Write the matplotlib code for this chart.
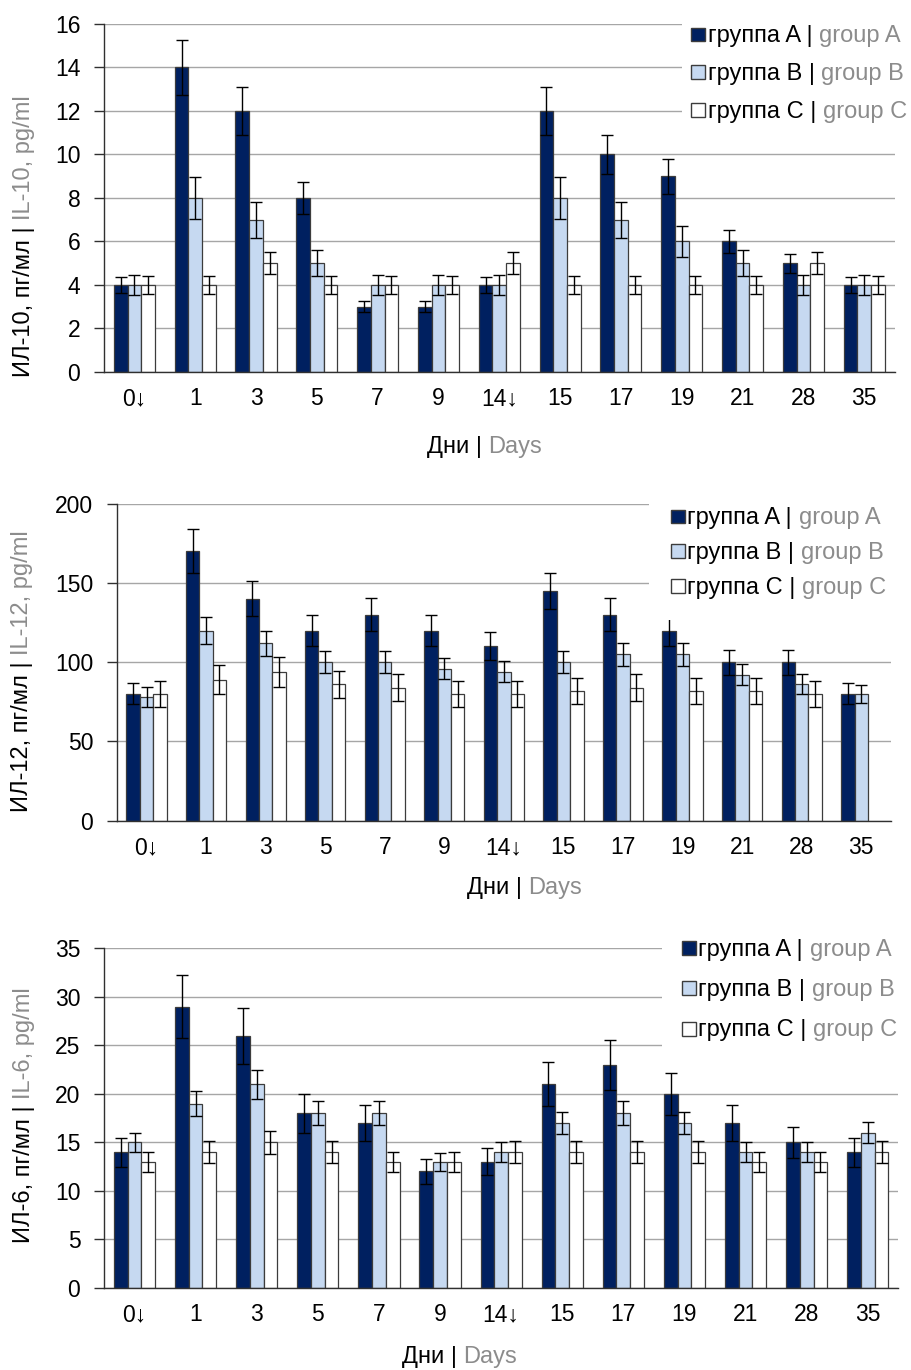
import matplotlib.pyplot as plt
import numpy as np
from matplotlib.patches import Rectangle
from matplotlib.offsetbox import AnchoredOffsetbox, HPacker, VPacker, TextArea, DrawingArea

plt.rcParams['font.family'] = ['Liberation Sans', 'DejaVu Sans']

days = ["0↓", "1", "3", "5", "7", "9", "14↓", "15", "17", "19", "21", "28", "35"]
groups_ru = ["группа A |", "группа B |", "группа C |"]
groups_en = ["group A", "group B", "group C"]

# IL-10
il10_a = [4, 14, 12, 8, 3, 3, 4, 12, 10, 9, 6, 5, 4]
il10_b = [4, 8, 7, 5, 4, 4, 4, 8, 7, 6, 5, 4, 4]
il10_c = [4, 4, 5, 4, 4, 4, 5, 4, 4, 4, 4, 5, 4]
il10_a_err = [0.35, 1.25, 1.1, 0.72, 0.25, 0.25, 0.35, 1.1, 0.9, 0.8, 0.53, 0.43, 0.35]
il10_b_err = [0.47, 0.95, 0.83, 0.6, 0.47, 0.47, 0.47, 0.95, 0.83, 0.71, 0.6, 0.47, 0.47]
il10_c_err = [0.4, 0.4, 0.5, 0.4, 0.4, 0.4, 0.5, 0.4, 0.4, 0.4, 0.4, 0.5, 0.4]

# IL-12
il12_a = [80, 170, 140, 120, 130, 120, 110, 145, 130, 120, 100, 100, 80]
il12_b = [78, 120, 112, 100, 100, 96, 94, 100, 105, 105, 92, 86, 80]
il12_c = [80, 89, 94, 86, 84, 80, 80, 82, 84, 82, 82, 80, np.nan]
il12_a_err = [6.6, 14, 11, 9.5, 10.5, 9.5, 8.8, 11.6, 10.5, 9.5, 8, 8, 6.6]
il12_b_err = [6.3, 8.5, 7.9, 7, 7, 6.8, 6.5, 7, 7.2, 7.2, 6.6, 6.3, 5.8]
il12_c_err = [8, 9, 9.5, 8.6, 8.4, 8, 8, 8.2, 8.4, 8.2, 8.2, 8, np.nan]

# IL-6
il6_a = [14, 29, 26, 18, 17, 12, 13, 21, 23, 20, 17, 15, 14]
il6_b = [15, 19, 21, 18, 18, 13, 14, 17, 18, 17, 14, 14, 16]
il6_c = [13, 14, 15, 14, 13, 13, 14, 14, 14, 14, 13, 13, 14]
il6_a_err = [1.5, 3.2, 2.9, 2.0, 1.9, 1.3, 1.4, 2.3, 2.6, 2.2, 1.9, 1.6, 1.5]
il6_b_err = [1.0, 1.3, 1.5, 1.25, 1.25, 0.9, 1.0, 1.1, 1.25, 1.1, 1.0, 1.0, 1.1]
il6_c_err = [1.05, 1.1, 1.2, 1.1, 1.05, 1.05, 1.1, 1.1, 1.1, 1.1, 1.05, 1.05, 1.1]

colors = ['#002060', '#c6d9f1', '#ffffff']
EDGE = '#3c3c3c'
GRAY = '#8c8c8c'
GRID = '#a6a6a6'
FS = 17
TFS = 16.5
SPACE = 0.278 * FS  # width of a space, points
HS = 11  # legend square, points

fig = plt.figure(figsize=(9.12, 13.7), dpi=100)


def legend_box(ax, anchor, row_sep, pad):
    rows = []
    for c, r, e in zip(colors, groups_ru, groups_en):
        da = DrawingArea(HS, HS, 0, 0)
        da.add_artist(Rectangle((0.5, 0.5), HS - 1, HS - 1, fc=c, ec=EDGE, lw=1.0))
        txt = HPacker(children=[TextArea(r, textprops=dict(color='black', fontsize=FS)),
                                TextArea(e, textprops=dict(color=GRAY, fontsize=FS))],
                      align='baseline', pad=0, sep=SPACE)
        rows.append(HPacker(children=[da, txt], align='baseline', pad=0, sep=1.5))
    box = AnchoredOffsetbox(loc='center left', child=VPacker(children=rows, align='left', pad=0, sep=row_sep),
                            pad=pad, borderpad=0, frameon=True, prop=dict(size=FS),
                            bbox_to_anchor=anchor, bbox_transform=fig.transFigure)
    box.patch.set_facecolor('white')
    box.patch.set_edgecolor('none')
    box.set_zorder(5)
    ax.add_artist(box)


def panel(rect, series, errs, yticks, yl_ru, yl_en, yl_pos, xl_pos, leg_pos, row_sep, leg_pad):
    ax = fig.add_axes(rect)
    x = np.arange(len(days))
    w = 0.225
    for i in range(3):
        ax.bar(x + (i - 1) * w, series[i], w, color=colors[i], edgecolor=EDGE,
               linewidth=0.9, zorder=2)
        ax.errorbar(x + (i - 1) * w, series[i], yerr=errs[i], fmt='none',
                    ecolor='black', elinewidth=1.0, capsize=4.3, capthick=1.0, zorder=3)
    ax.set_xlim(-0.5, len(days) - 0.5)
    ax.set_ylim(yticks[0], yticks[-1])
    ax.set_yticks(yticks)
    ax.set_xticks(x)
    ax.set_xticklabels(days)
    ax.tick_params(axis='x', length=0, pad=11, labelsize=TFS)
    ax.tick_params(axis='y', length=7, width=1, pad=10, labelsize=TFS, color='#303030')
    ax.grid(axis='y', color=GRID, linewidth=1.0, zorder=0)
    ax.set_axisbelow(True)
    for s in ['top', 'right']:
        ax.spines[s].set_visible(False)
    for s in ['left', 'bottom']:
        ax.spines[s].set_color('#303030')
        ax.spines[s].set_linewidth(1.0)

    # y label: black Russian part, gray English part after it
    t = fig.text(yl_pos[0], yl_pos[1], yl_ru, rotation=90, ha='center', va='bottom',
                 color='black', fontsize=FS)
    ax.annotate(yl_en, xy=(0.5, 1), xycoords=t, xytext=(0, SPACE), textcoords='offset points',
                rotation=90, ha='center', va='bottom', color=GRAY, fontsize=FS)
    # x label
    t = fig.text(xl_pos[0], xl_pos[1], "Дни |", ha='left', va='center', color='black', fontsize=FS)
    ax.annotate("Days", xy=(1, 0.5), xycoords=t, xytext=(SPACE, 0), textcoords='offset points',
                ha='left', va='center', color=GRAY, fontsize=FS)

    legend_box(ax, leg_pos, row_sep, leg_pad)
    return ax


panel([0.114, 0.7285, 0.867, 0.254],
      [il10_a, il10_b, il10_c], [il10_a_err, il10_b_err, il10_c_err],
      np.arange(0, 17, 2), "ИЛ-10, пг/мл |", "IL-10, pg/ml",
      (0.026, 0.7248), (0.468, 0.6737), (0.748, 0.946), 11.4, 0.34)

panel([0.128, 0.401, 0.849, 0.2313],
      [il12_a, il12_b, il12_c], [il12_a_err, il12_b_err, il12_c_err],
      np.arange(0, 201, 50), "ИЛ-12, пг/мл |", "IL-12, pg/ml",
      (0.024, 0.4073), (0.512, 0.3518), (0.7116, 0.5964), 9.2, 0.89)

panel([0.114, 0.0599, 0.871, 0.2479],
      [il6_a, il6_b, il6_c], [il6_a_err, il6_b_err, il6_c_err],
      np.arange(0, 36, 5), "ИЛ-6, пг/мл |", "IL-6, pg/ml",
      (0.026, 0.0927), (0.4408, 0.0095), (0.726, 0.2774), 13.2, 0.8)

fig.savefig('out.png', dpi=100)
